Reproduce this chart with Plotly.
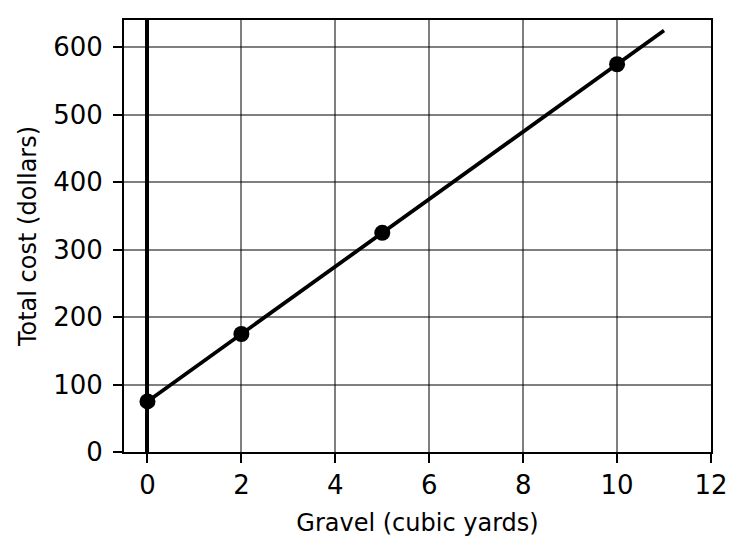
import plotly.graph_objects as go

# Data
line_x = [0, 11]
line_y = [75, 625]
point_x = [0, 2, 5, 10]
point_y = [75, 175, 325, 575]
x_ticks = [0, 2, 4, 6, 8, 10, 12]
y_ticks = [0, 100, 200, 300, 400, 500, 600]

FONT = "DejaVu Sans"

fig = go.Figure()
fig.add_trace(go.Scatter(x=line_x, y=line_y, mode="lines",
                         line=dict(color="black", width=3.8),
                         hoverinfo="skip", showlegend=False))
fig.add_trace(go.Scatter(x=point_x, y=point_y, mode="markers",
                         marker=dict(color="black", size=16),
                         showlegend=False))

axis_common = dict(
    showline=True, mirror=True, linecolor="black", linewidth=2,
    ticks="outside", ticklen=9, tickwidth=2, tickcolor="black",
    showgrid=True, gridcolor="rgba(0,0,0,0.5)", gridwidth=1.6,
    tickfont=dict(family=FONT, size=26, color="black"),
)

fig.update_xaxes(range=[-0.5, 12], tickvals=x_ticks,
                 zeroline=True, zerolinecolor="black", zerolinewidth=3.6,
                 title=dict(text="Gravel (cubic yards)", standoff=15,
                            font=dict(family=FONT, size=24, color="black")),
                 **axis_common)
fig.update_yaxes(range=[0, 640.6], tickvals=y_ticks, zeroline=False,
                 ticklabelstandoff=5,
                 title=dict(text="Total cost (dollars)", standoff=10,
                            font=dict(family=FONT, size=24, color="black")),
                 **axis_common)

# page body has an 8px default margin, so the figure is shrunk by that amount
fig.update_layout(
    width=738, height=544,
    margin=dict(l=116, r=35, t=9.5, b=99.5),
    plot_bgcolor="white", paper_bgcolor="white",
    font=dict(family=FONT, color="black"),
)

fig.write_html("out.html")
